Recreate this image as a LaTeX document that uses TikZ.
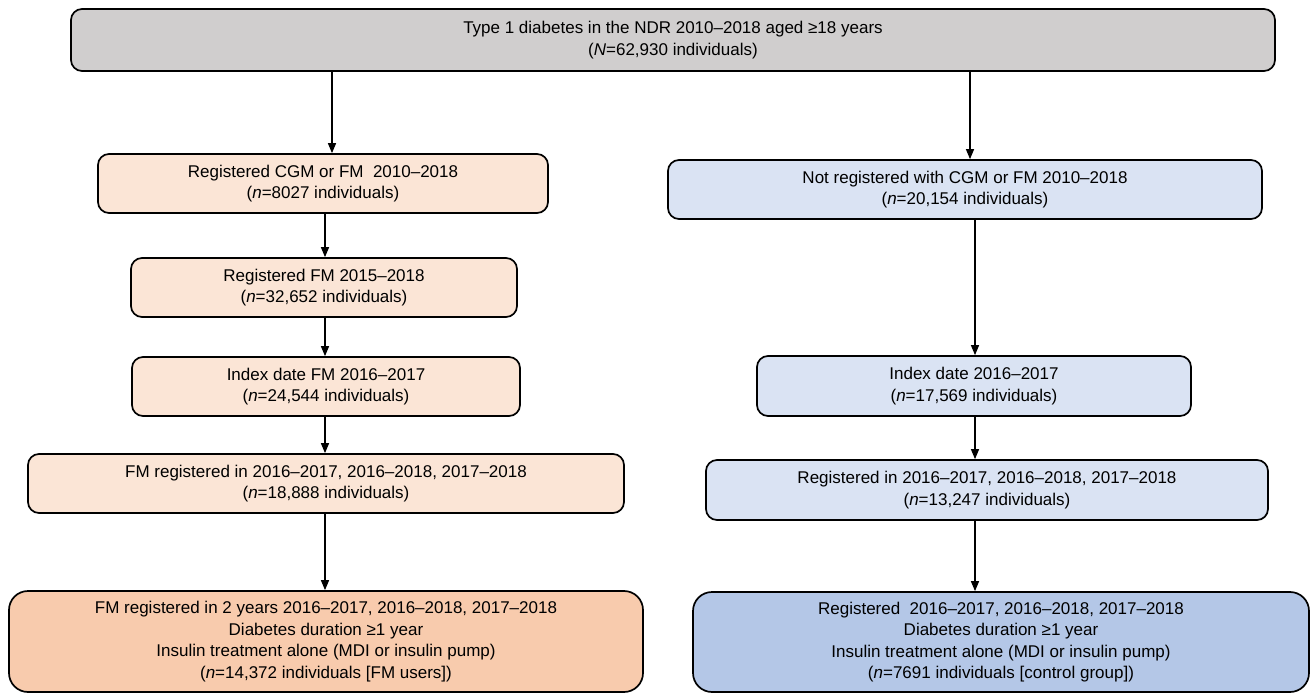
\documentclass[tikz,border=0pt]{standalone}
\usepackage{fontspec}
\setmainfont{Liberation Sans}
\usetikzlibrary{arrows.meta}
\definecolor{topgray}{HTML}{D0CECE}
\definecolor{lorange}{HTML}{FBE5D6}
\definecolor{dorange}{HTML}{F8CBAD}
\definecolor{lblue}{HTML}{DAE3F3}
\definecolor{dblue}{HTML}{B4C7E7}
\tikzset{
  box/.style={draw=black, line width=1.7pt, rounded corners=11pt, align=center,
    inner sep=0pt, font=\fontsize{17}{21.5}\selectfont},
  bigbox/.style={box, rounded corners=19pt},
  arr/.style={line width=1.3pt, -{Triangle[length=10pt,width=8pt]}}
}
\begin{document}
\begin{tikzpicture}[x=1pt,y=-1pt]
\useasboundingbox (0,0) rectangle (1312,695);
\node[box, fill=topgray, minimum width=1204pt, minimum height=62pt] (top) at (673,40)
  {Type 1 diabetes in the NDR 2010–2018 aged ≥18 years\\(\textit{N}=62,930 individuals)};
% left column
\node[box, fill=lorange, minimum width=450pt, minimum height=59pt] (L1) at (323,183.5)
  {Registered CGM or FM\ \ 2010–2018\\(\textit{n}=8027 individuals)};
\node[box, fill=lorange, minimum width=386pt, minimum height=59pt] (L2) at (324,287.5)
  {Registered FM 2015–2018\\(\textit{n}=32,652 individuals)};
\node[box, fill=lorange, minimum width=388pt, minimum height=59pt] (L3) at (326,386.5)
  {Index date FM 2016–2017\\(\textit{n}=24,544 individuals)};
\node[box, fill=lorange, minimum width=596pt, minimum height=59pt] (L4) at (326,483.5)
  {FM registered in 2016–2017, 2016–2018, 2017–2018\\(\textit{n}=18,888 individuals)};
\node[bigbox, fill=dorange, minimum width=634pt, minimum height=101pt] (L5) at (326,641.5)
  {FM registered in 2 years 2016–2017, 2016–2018, 2017–2018\\Diabetes duration ≥1 year\\Insulin treatment alone (MDI or insulin pump)\\(\textit{n}=14,372 individuals [FM users])};
% right column
\node[box, fill=lblue, minimum width=594pt, minimum height=59pt] (R1) at (965,189.5)
  {Not registered with CGM or FM 2010–2018\\(\textit{n}=20,154 individuals)};
\node[box, fill=lblue, minimum width=434pt, minimum height=60pt] (R2) at (974,386)
  {Index date 2016–2017\\(\textit{n}=17,569 individuals)};
\node[box, fill=lblue, minimum width=562pt, minimum height=60pt] (R3) at (987,490)
  {Registered in 2016–2017, 2016–2018, 2017–2018\\(\textit{n}=13,247 individuals)};
\node[bigbox, fill=dblue, minimum width=616pt, minimum height=100pt] (R4) at (1001,642)
  {Registered\ \ 2016–2017, 2016–2018, 2017–2018\\Diabetes duration ≥1 year\\Insulin treatment alone (MDI or insulin pump)\\(\textit{n}=7691 individuals [control group])};
% columns for connectors
\coordinate (xa) at (332,0);
\coordinate (xb) at (325,0);
\coordinate (xc) at (970,0);
\coordinate (xd) at (975,0);
\draw[arr] (top.south -| xa) -- (L1.north -| xa);
\draw[arr] (L1.south -| xb) -- (L2.north -| xb);
\draw[arr] (L2.south -| xb) -- (L3.north -| xb);
\draw[arr] (L3.south -| xb) -- (L4.north -| xb);
\draw[arr] (L4.south -| xb) -- (L5.north -| xb);
\draw[arr] (top.south -| xc) -- (R1.north -| xc);
\draw[arr] (R1.south -| xd) -- (R2.north -| xd);
\draw[arr] (R2.south -| xd) -- (R3.north -| xd);
\draw[arr] (R3.south -| xd) -- (R4.north -| xd);
\end{tikzpicture}
\end{document}
